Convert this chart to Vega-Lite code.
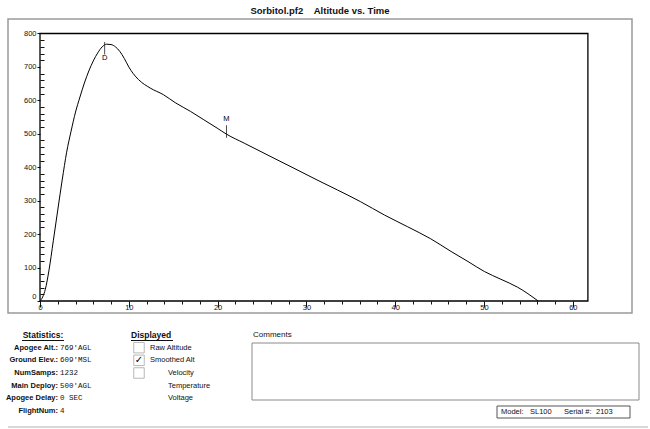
{
  "$schema": "https://vega.github.io/schema/vega-lite/v6.json",
  "background": "white",
  "padding": {"left": 5, "top": 4, "right": 0, "bottom": 0},
  "spacing": 14,
  "config": {"font": "Liberation Sans", "view": {"stroke": null}},
  "datasets": {
    "flight": [
      {"time": 0, "altitude": 0},
      {"time": 0.3, "altitude": 12},
      {"time": 0.6, "altitude": 35},
      {"time": 1.0, "altitude": 90},
      {"time": 1.5, "altitude": 180},
      {"time": 2.0, "altitude": 272},
      {"time": 2.5, "altitude": 362},
      {"time": 3.0, "altitude": 445},
      {"time": 3.5, "altitude": 508},
      {"time": 4.0, "altitude": 565},
      {"time": 4.5, "altitude": 610},
      {"time": 5.0, "altitude": 652},
      {"time": 5.5, "altitude": 688},
      {"time": 6.0, "altitude": 718},
      {"time": 6.5, "altitude": 742},
      {"time": 7.0, "altitude": 760},
      {"time": 7.5, "altitude": 768},
      {"time": 8.0, "altitude": 767},
      {"time": 8.5, "altitude": 760},
      {"time": 9.0, "altitude": 746},
      {"time": 9.5, "altitude": 725},
      {"time": 10.0, "altitude": 700},
      {"time": 10.5, "altitude": 680},
      {"time": 11.1, "altitude": 662},
      {"time": 12.4, "altitude": 637},
      {"time": 13.9, "altitude": 617},
      {"time": 15.3, "altitude": 592},
      {"time": 16.95, "altitude": 567},
      {"time": 18.45, "altitude": 542},
      {"time": 19.95, "altitude": 517},
      {"time": 21.0, "altitude": 499},
      {"time": 23.0, "altitude": 472},
      {"time": 26.35, "altitude": 427},
      {"time": 28.6, "altitude": 397},
      {"time": 31.2, "altitude": 362},
      {"time": 33.5, "altitude": 332},
      {"time": 36.1, "altitude": 297},
      {"time": 38.8, "altitude": 257},
      {"time": 41.4, "altitude": 222},
      {"time": 44.0, "altitude": 186},
      {"time": 46.3, "altitude": 148},
      {"time": 48.2, "altitude": 118},
      {"time": 50.06, "altitude": 88},
      {"time": 51.9, "altitude": 65},
      {"time": 53.8, "altitude": 41},
      {"time": 56.1, "altitude": 0}
    ],
    "events": [
      {"event": "D", "time": 7.28, "altitude": 756},
      {"event": "M", "time": 21.0, "altitude": 507}
    ],
    "stats": [
      {"row": 1, "label": "Apogee Alt.:", "value": "769'AGL"},
      {"row": 2, "label": "Ground Elev.:", "value": "609'MSL"},
      {"row": 3, "label": "NumSamps:", "value": "1232"},
      {"row": 4, "label": "Main Deploy:", "value": "500'AGL"},
      {"row": 5, "label": "Apogee Delay:", "value": "0 SEC"},
      {"row": 6, "label": "FlightNum:", "value": "4"}
    ],
    "displayed": [
      {"row": 1, "series": "Raw Altitude", "checked": false, "selectable": true},
      {"row": 2, "series": "Smoothed Alt", "checked": true, "selectable": true},
      {"row": 3, "series": "Velocity", "checked": false, "selectable": true},
      {"row": 4, "series": "Temperature", "checked": false, "selectable": false},
      {"row": 5, "series": "Voltage", "checked": false, "selectable": false}
    ],
    "headers": [
      {"row": 0, "header": "Statistics:"},
      {"row": 0, "header": "Displayed"},
      {"row": 0, "header": "Comments"}
    ],
    "device": [
      {"model": "SL100", "serial": "2103"}
    ]
  },
  "vconcat": [
    {
      "width": 624,
      "height": 294,
      "view": {"stroke": "#9a9a9a", "strokeWidth": 1.5},
      "title": {
        "text": "Sorbitol.pf2\u00a0\u00a0\u00a0\u00a0Altitude vs. Time",
        "fontSize": 9.5,
        "fontWeight": "bold",
        "font": "Liberation Sans",
        "color": "#111",
        "anchor": "middle",
        "offset": 4
      },
      "layer": [
        {
          "data": {"name": "flight"},
          "mark": {"type": "line", "color": "#000", "strokeWidth": 1, "interpolate": "monotone"},
          "encoding": {
            "x": {
              "field": "time", "type": "quantitative",
              "scale": {"domain": [-3.604, 66.667], "nice": false, "zero": false},
              "axis": {
                "orient": "bottom", "offset": -12, "title": null, "domain": false, "grid": false,
                "tickCount": 1000, "format": "d",
                "values": [0, 2, 4, 6, 8, 10, 12, 14, 16, 18, 20, 22, 24, 26, 28, 30, 32, 34, 36, 38, 40, 42, 44, 46, 48, 50, 52, 54, 56, 58, 60],
                "labelExpr": "datum.value % 10 === 0 ? datum.label : ''",
                "tickSize": {"condition": {"test": "datum.value % 10 === 0", "value": 6}, "value": 3},
                "tickColor": "#111", "tickWidth": 1,
                "labelFont": "Liberation Sans", "labelFontSize": 7.5, "labelColor": "#111",
                "labelPadding": -4, "labelFlush": false, "labelOverlap": false
              }
            },
            "y": {
              "field": "altitude", "type": "quantitative",
              "scale": {"domain": [-35.89, 843.36], "nice": false, "zero": false},
              "axis": {
                "orient": "left", "offset": -32, "title": null, "domain": false, "grid": false,
                "tickCount": 1000, "format": "d",
                "values": [0, 20, 40, 60, 80, 100, 120, 140, 160, 180, 200, 220, 240, 260, 280, 300, 320, 340, 360, 380, 400, 420, 440, 460, 480, 500, 520, 540, 560, 580, 600, 620, 640, 660, 680, 700, 720, 740, 760, 780, 800],
                "labelExpr": "datum.value % 100 === 0 ? datum.label : ''",
                "labelOffset": {"condition": {"test": "datum.value === 0", "value": -4}, "value": 0},
                "tickSize": {"condition": {"test": "datum.value % 100 === 0", "value": 3}, "value": -4},
                "tickColor": "#111", "tickWidth": 1,
                "labelFont": "Liberation Sans", "labelFontSize": 7.5, "labelColor": "#111",
                "labelPadding": 1, "labelFlush": false, "labelOverlap": false
              }
            }
          }
        },
        {
          "data": {"values": [{"panel": "plot"}]},
          "mark": {"type": "rect", "fillOpacity": 0, "stroke": "#000", "strokeWidth": 1.3},
          "encoding": {
            "x": {"datum": 0, "type": "quantitative"},
            "x2": {"datum": 61.7},
            "y": {"datum": 0, "type": "quantitative"},
            "y2": {"datum": 800}
          }
        },
        {
          "data": {"name": "events"},
          "mark": {"type": "tick", "orient": "vertical", "size": 12.5, "thickness": 1, "color": "#000"},
          "encoding": {
            "x": {"field": "time", "type": "quantitative"},
            "y": {"field": "altitude", "type": "quantitative"}
          }
        },
        {
          "data": {"name": "events"},
          "transform": [{"filter": "datum.event === 'D'"}],
          "mark": {"type": "text", "fontSize": 7.5, "fill": "#000", "dy": 10, "baseline": "middle", "font": "Liberation Sans"},
          "encoding": {
            "x": {"field": "time", "type": "quantitative"},
            "y": {"field": "altitude", "type": "quantitative"},
            "text": {"field": "event"}
          }
        },
        {
          "data": {"name": "events"},
          "transform": [{"filter": "datum.event === 'M'"}],
          "mark": {"type": "text", "fontSize": 7.5, "fill": "#000", "dy": -12.5, "baseline": "middle", "font": "Liberation Sans"},
          "encoding": {
            "x": {"field": "time", "type": "quantitative"},
            "y": {"field": "altitude", "type": "quantitative"},
            "text": {"field": "event"}
          }
        }
      ]
    },
    {
      "width": 624,
      "height": 100,
      "layer": [
        {
          "data": {"name": "headers"},
          "transform": [{"filter": "datum.header === 'Statistics:'"}],
          "mark": {"type": "text", "align": "center", "baseline": "middle", "fontSize": 8.5, "fontWeight": "bold", "fill": "#111"},
          "encoding": {
            "x": {"value": 35},
            "y": {"field": "row", "type": "quantitative", "scale": {"domain": [0, 6], "range": [7, 83]}, "axis": null},
            "text": {"field": "header"}
          }
        },
        {
          "data": {"name": "headers"},
          "transform": [{"filter": "datum.header === 'Displayed'"}],
          "mark": {"type": "text", "align": "left", "baseline": "middle", "fontSize": 8.5, "fontWeight": "bold", "fill": "#111"},
          "encoding": {
            "x": {"value": 123},
            "y": {"field": "row", "type": "quantitative"},
            "text": {"field": "header"}
          }
        },
        {
          "data": {"name": "headers"},
          "transform": [{"filter": "datum.header === 'Comments'"}],
          "mark": {"type": "text", "align": "left", "baseline": "middle", "fontSize": 8, "fill": "#111"},
          "encoding": {
            "x": {"value": 245},
            "y": {"field": "row", "type": "quantitative"},
            "text": {"field": "header"}
          }
        },
        {
          "data": {"values": [{"underline": "Statistics:"}]},
          "mark": {"type": "rule", "color": "#111", "strokeWidth": 1},
          "encoding": {"x": {"value": 14}, "x2": {"value": 56}, "y": {"value": 12.5}}
        },
        {
          "data": {"values": [{"underline": "Displayed"}]},
          "mark": {"type": "rule", "color": "#111", "strokeWidth": 1},
          "encoding": {"x": {"value": 123}, "x2": {"value": 165}, "y": {"value": 12.5}}
        },
        {
          "data": {"name": "stats"},
          "mark": {"type": "text", "align": "right", "baseline": "middle", "fontSize": 7.5, "fontWeight": "bold", "fill": "#111"},
          "encoding": {
            "x": {"value": 50},
            "y": {"field": "row", "type": "quantitative"},
            "text": {"field": "label"}
          }
        },
        {
          "data": {"name": "stats"},
          "mark": {"type": "text", "align": "left", "baseline": "middle", "fontSize": 7.5, "font": "Liberation Mono", "fill": "#111"},
          "encoding": {
            "x": {"value": 52},
            "y": {"field": "row", "type": "quantitative"},
            "text": {"field": "value"}
          }
        },
        {
          "data": {"name": "displayed"},
          "transform": [{"filter": "datum.selectable"}],
          "mark": {"type": "point", "shape": "square", "filled": false, "size": 110, "stroke": "#9a9a9a", "strokeWidth": 1},
          "encoding": {
            "x": {"value": 131},
            "y": {"field": "row", "type": "quantitative"}
          }
        },
        {
          "data": {"name": "displayed"},
          "transform": [{"filter": "datum.checked"}],
          "mark": {"type": "text", "align": "center", "baseline": "middle", "fontSize": 10, "font": "DejaVu Sans", "fontWeight": "bold", "fill": "#000"},
          "encoding": {
            "x": {"value": 131},
            "y": {"field": "row", "type": "quantitative"},
            "text": {"value": "✓"}
          }
        },
        {
          "data": {"name": "displayed"},
          "transform": [{"filter": "datum.row <= 2"}],
          "mark": {"type": "text", "align": "left", "baseline": "middle", "fontSize": 7.5, "fill": "#111"},
          "encoding": {
            "x": {"value": 142},
            "y": {"field": "row", "type": "quantitative"},
            "text": {"field": "series"}
          }
        },
        {
          "data": {"name": "displayed"},
          "transform": [{"filter": "datum.row > 2"}],
          "mark": {"type": "text", "align": "left", "baseline": "middle", "fontSize": 7.5, "fill": "#111"},
          "encoding": {
            "x": {"value": 160},
            "y": {"field": "row", "type": "quantitative"},
            "text": {"field": "series"}
          }
        },
        {
          "data": {"values": [{"box": "comments"}]},
          "mark": {"type": "rect", "fill": "white", "stroke": "#8a8a8a", "strokeWidth": 1},
          "encoding": {"x": {"value": 244}, "x2": {"value": 631}, "y": {"value": 15}, "y2": {"value": 72}}
        },
        {
          "data": {"name": "device"},
          "mark": {"type": "rect", "fill": "white", "stroke": "#555", "strokeWidth": 1},
          "encoding": {"x": {"value": 489}, "x2": {"value": 622}, "y": {"value": 78}, "y2": {"value": 90}}
        },
        {
          "data": {"name": "device"},
          "mark": {"type": "text", "align": "left", "baseline": "middle", "fontSize": 7.5, "fill": "#111"},
          "encoding": {"x": {"value": 493}, "y": {"value": 84}, "text": {"value": "Model:"}}
        },
        {
          "data": {"name": "device"},
          "mark": {"type": "text", "align": "left", "baseline": "middle", "fontSize": 7.5, "fill": "#111"},
          "encoding": {"x": {"value": 522}, "y": {"value": 84}, "text": {"field": "model"}}
        },
        {
          "data": {"name": "device"},
          "mark": {"type": "text", "align": "left", "baseline": "middle", "fontSize": 7.5, "fill": "#111"},
          "encoding": {"x": {"value": 556}, "y": {"value": 84}, "text": {"value": "Serial #:"}}
        },
        {
          "data": {"name": "device"},
          "mark": {"type": "text", "align": "left", "baseline": "middle", "fontSize": 7.5, "fill": "#111"},
          "encoding": {"x": {"value": 588}, "y": {"value": 84}, "text": {"field": "serial"}}
        },
        {
          "data": {"values": [{"line": "page"}]},
          "mark": {"type": "rule", "color": "#b0b0b0", "strokeWidth": 1},
          "encoding": {"x": {"value": 0}, "x2": {"value": 640}, "y": {"value": 99}}
        }
      ]
    }
  ]
}
